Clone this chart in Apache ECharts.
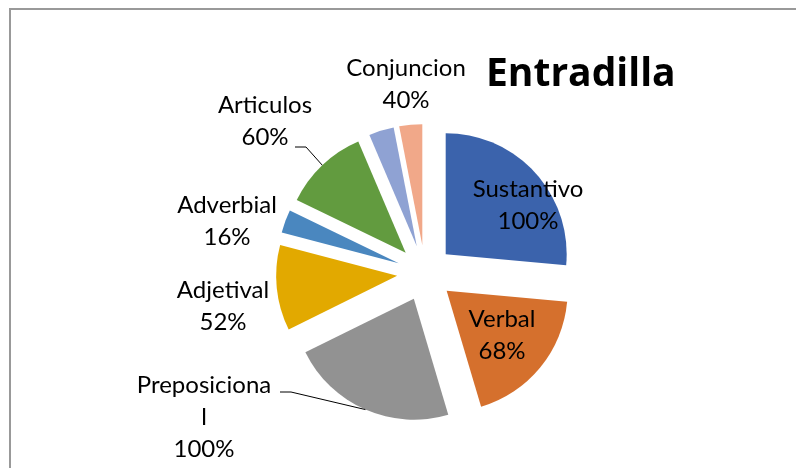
<!DOCTYPE html>
<html>
<head>
<meta charset="utf-8">
<script src="https://cdn.jsdelivr.net/npm/echarts@6/dist/echarts.min.js"></script>
<style>
    html, body { margin: 0; padding: 0; background: #fff; }
    #chart { width: 796px; height: 468px; }
</style>
</head>
<body>
<div id="chart"></div>
<script>
    // categorias del grafico
    var categories = ['Sustantivo', 'Verbal', 'Preposicional', 'Adjetival', 'Adverbial', 'Articulos', '', 'Conjuncion'];
    // tamaño de cada porcion
    var sliceValues = [95, 68, 80, 41, 11, 41, 12, 11];
    // texto de porcentaje que muestra cada etiqueta
    var percentLabels = ['100%', '68%', '100%', '52%', '16%', '60%', '', '40%'];

    // colores de las porciones
    var colors = ['#3b63ac', '#d5702d', '#929292', '#e2a900', '#4a87bf', '#629b3f', '#8fa2d3', '#f1a889'];
    // centro de cada etiqueta
    var labelPos = [[528, 205], [502, 335], [204, 417], [223, 306], [227, 221], [265, 121], null, [406, 84]];
    // inicio de la linea guia (lado de la etiqueta), solo para algunas porciones
    var leaderStart = [null, null, [280, 392], null, null, [295, 147], null, null];

    var myChart = echarts.init(document.getElementById('chart'));

    // porciones separadas (explotadas)
    var sliceData = categories.map(function (name, i) {
        return {
            name: name,
            value: sliceValues[i],
            selected: true,
            itemStyle: {color: colors[i]}
        };
    });

    // serie transparente solo para las etiquetas
    var labelData = categories.map(function (name, i) {
        var item = {
            name: name,
            value: sliceValues[i],
            label: {show: percentLabels[i] !== ''},
            labelLine: {show: !!leaderStart[i]}
        };
        if (name === 'Preposicional') {
            item.label.width = 138;
            item.label.overflow = 'breakAll';
        }
        return item;
    });

    var option = {
        animation: false,
        backgroundColor: '#fff',
        title: {
            text: 'Entradilla',
            left: 481,
            top: 50,
            textStyle: {
                fontFamily: 'Open Sans',
                fontWeight: 'bold',
                fontSize: 39,
                color: '#000'
            }
        },
        graphic: [{
            type: 'rect',
            shape: {x: 10, y: 9, width: 900, height: 600},
            style: {fill: 'none', stroke: '#999', lineWidth: 2},
            silent: true
        }],
        series: [{
            type: 'pie',
            z: 2,
            center: [425, 273],
            radius: 121,
            startAngle: 90,
            clockwise: true,
            selectedMode: 'multiple',
            selectedOffset: 28,
            silent: true,
            label: {show: false},
            labelLine: {show: false},
            data: sliceData
        }, {
            // mismo centro, radio = borde exterior de las porciones separadas
            type: 'pie',
            z: 5,
            center: [425, 273],
            radius: 149,
            startAngle: 90,
            clockwise: true,
            silent: true,
            avoidLabelOverlap: false,
            itemStyle: {color: 'rgba(0,0,0,0)'},
            label: {
                position: 'outside',
                color: '#000',
                fontFamily: 'Lato',
                fontSize: 24,
                lineHeight: 32,
                align: 'center',
                formatter: function (p) {
                    return p.name + '\n' + percentLabels[p.dataIndex];
                }
            },
            labelLine: {
                show: false,
                length: 10,
                length2: 10,
                lineStyle: {color: '#000', width: 1}
            },
            labelLayout: function (params) {
                var i = params.dataIndex;
                var pos = labelPos[i];
                if (!pos) return {};
                var res = {
                    x: pos[0],
                    y: pos[1],
                    align: 'center',
                    verticalAlign: 'middle'
                };
                var st = leaderStart[i];
                if (st && params.labelLinePoints) {
                    // punto sobre el borde de la porcion, calculado por la libreria
                    var edge = params.labelLinePoints[0];
                    res.labelLinePoints = [
                        [edge[0], edge[1]],
                        [st[0] + 11, st[1]],
                        [st[0], st[1]]
                    ];
                }
                return res;
            },
            data: labelData
        }]
    };

    myChart.setOption(option);
</script>
</body>
</html>
